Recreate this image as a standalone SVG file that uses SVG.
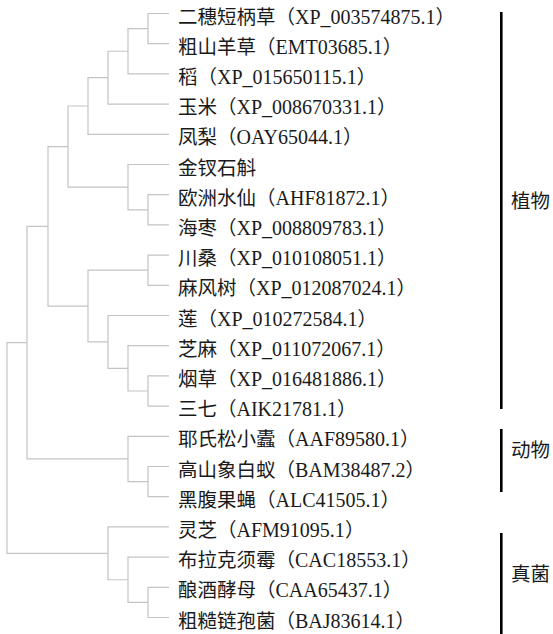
<svg xmlns="http://www.w3.org/2000/svg" width="553" height="634" viewBox="0 0 553 634">
<style>
  .edge{fill:none;stroke:#c4c4c4;stroke-width:1.2}
  .lbl{font-family:"Noto Sans CJK SC",sans-serif;font-size:19.5px;fill:#1a1a1a}
  .la{font-family:"Liberation Serif","Times New Roman","DejaVu Serif",serif;font-size:20px}
  .bar{stroke:#000;stroke-width:2.6}
</style>
<rect width="553" height="634" fill="#fff"/>
<g id="connectors">
  <path class="edge" d="M148 28.6V13.5H169M148 28.6V43.7H169"/>
  <path class="edge" d="M128 51.25V28.6H148M128 51.25V73.9H169"/>
  <path class="edge" d="M108 77.7V51.25H128M108 77.7V104.1H169"/>
  <path class="edge" d="M88 106V77.7H108M88 106V134.3H169"/>
  <path class="edge" d="M148 209.8V194.7H169M148 209.8V224.9H169"/>
  <path class="edge" d="M128 187.15V164.5H169M128 187.15V209.8H148"/>
  <path class="edge" d="M68 146.6V106H88M68 146.6V187.15H128"/>
  <path class="edge" d="M148 270.2V255.1H169M148 270.2V285.3H169"/>
  <path class="edge" d="M148 391V375.9H169M148 391V406.1H169"/>
  <path class="edge" d="M128 368.35V345.7H169M128 368.35V391H148"/>
  <path class="edge" d="M108 341.9V315.5H169M108 341.9V368.35H128"/>
  <path class="edge" d="M88 306.05V270.2H148M88 306.05V341.9H108"/>
  <path class="edge" d="M48 226.3V146.6H68M48 226.3V306.05H88"/>
  <path class="edge" d="M148 481.6V466.5H169M148 481.6V496.7H169"/>
  <path class="edge" d="M128 458.95V436.3H169M128 458.95V481.6H148"/>
  <path class="edge" d="M27 342.6V226.3H48M27 342.6V458.95H128"/>
  <path class="edge" d="M148 602.4V587.3H169M148 602.4V617.5H169"/>
  <path class="edge" d="M128 579.75V557.1H169M128 579.75V602.4H148"/>
  <path class="edge" d="M108 553.3V526.9H169M108 553.3V579.75H128"/>
  <path class="edge" d="M7 447.95V342.6H27M7 447.95V553.3H108"/>
</g>
<g id="leaf0"><text class="lbl" x="178" y="23.5">二穗短柄草（<tspan class="la" font-family="Liberation Serif">XP_003574875.1</tspan>）</text></g>
<g id="leaf1"><text class="lbl" x="178" y="53.7">粗山羊草（<tspan class="la" font-family="Liberation Serif">EMT03685.1</tspan>）</text></g>
<g id="leaf2"><text class="lbl" x="178" y="83.9">稻（<tspan class="la" font-family="Liberation Serif">XP_015650115.1</tspan>）</text></g>
<g id="leaf3"><text class="lbl" x="178" y="114.1">玉米（<tspan class="la" font-family="Liberation Serif">XP_008670331.1</tspan>）</text></g>
<g id="leaf4"><text class="lbl" x="178" y="144.3">凤梨（<tspan class="la" font-family="Liberation Serif">OAY65044.1</tspan>）</text></g>
<g id="leaf5"><text class="lbl" x="178" y="174.5">金钗石斛</text></g>
<g id="leaf6"><text class="lbl" x="178" y="204.7">欧洲水仙（<tspan class="la" font-family="Liberation Serif">AHF81872.1</tspan>）</text></g>
<g id="leaf7"><text class="lbl" x="178" y="234.9">海枣（<tspan class="la" font-family="Liberation Serif">XP_008809783.1</tspan>）</text></g>
<g id="leaf8"><text class="lbl" x="178" y="265.1">川桑（<tspan class="la" font-family="Liberation Serif">XP_010108051.1</tspan>）</text></g>
<g id="leaf9"><text class="lbl" x="178" y="295.3">麻风树（<tspan class="la" font-family="Liberation Serif">XP_012087024.1</tspan>）</text></g>
<g id="leaf10"><text class="lbl" x="178" y="325.5">莲（<tspan class="la" font-family="Liberation Serif">XP_010272584.1</tspan>）</text></g>
<g id="leaf11"><text class="lbl" x="178" y="355.7">芝麻（<tspan class="la" font-family="Liberation Serif">XP_011072067.1</tspan>）</text></g>
<g id="leaf12"><text class="lbl" x="178" y="385.9">烟草（<tspan class="la" font-family="Liberation Serif">XP_016481886.1</tspan>）</text></g>
<g id="leaf13"><text class="lbl" x="178" y="416.1">三七（<tspan class="la" font-family="Liberation Serif">AIK21781.1</tspan>）</text></g>
<g id="leaf14"><text class="lbl" x="178" y="446.3">耶氏松小蠹（<tspan class="la" font-family="Liberation Serif">AAF89580.1</tspan>）</text></g>
<g id="leaf15"><text class="lbl" x="178" y="476.5">高山象白蚁（<tspan class="la" font-family="Liberation Serif">BAM38487.2</tspan>）</text></g>
<g id="leaf16"><text class="lbl" x="178" y="506.7">黑腹果蝇（<tspan class="la" font-family="Liberation Serif">ALC41505.1</tspan>）</text></g>
<g id="leaf17"><text class="lbl" x="178" y="536.9">灵芝（<tspan class="la" font-family="Liberation Serif">AFM91095.1</tspan>）</text></g>
<g id="leaf18"><text class="lbl" x="178" y="567.1">布拉克须霉（<tspan class="la" font-family="Liberation Serif">CAC18553.1</tspan>）</text></g>
<g id="leaf19"><text class="lbl" x="178" y="597.3">酿酒酵母（<tspan class="la" font-family="Liberation Serif">CAA65437.1</tspan>）</text></g>
<g id="leaf20"><text class="lbl" x="178" y="627.5">粗糙链孢菌（<tspan class="la" font-family="Liberation Serif">BAJ83614.1</tspan>）</text></g>
<g id="group-plants"><line class="bar" x1="501.3" y1="12" x2="501.3" y2="409"/><text class="lbl" x="511" y="207.5">植物</text></g>
<g id="group-animals"><line class="bar" x1="501.3" y1="429" x2="501.3" y2="492"/><text class="lbl" x="511" y="457">动物</text></g>
<g id="group-fungi"><line class="bar" x1="501.3" y1="533" x2="501.3" y2="634"/><text class="lbl" x="511" y="581">真菌</text></g>
</svg>
